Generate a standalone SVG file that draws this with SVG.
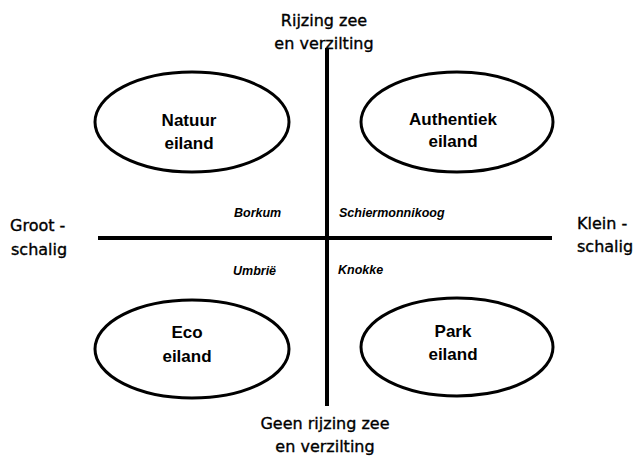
<svg xmlns="http://www.w3.org/2000/svg" width="637" height="456" viewBox="0 0 637 456">
  <style>
    .axis { stroke: #000; stroke-width: 4; stroke-linecap: butt; fill: none; }
    .island { fill: none; stroke: #000; stroke-width: 3; }
    .node-label { font-family: "Liberation Sans", Arial, sans-serif; font-weight: bold; font-size: 17px; fill: #000; text-anchor: middle; }
    .pole { font-family: "DejaVu Sans", "Liberation Sans", sans-serif; font-size: 16px; fill: #000; stroke: #000; stroke-width: 0.35; }
    .pole-c { text-anchor: middle; }
    .example { font-family: "Liberation Sans", Arial, sans-serif; font-weight: bold; font-style: italic; font-size: 12.5px; fill: #000; }
  </style>
  <rect width="637" height="456" fill="#fff"/>

  <!-- axes -->
  <g id="connectors">
    <line class="axis" x1="327" y1="48" x2="327" y2="406"/>
    <line class="axis" x1="98" y1="238" x2="552" y2="238"/>
  </g>

  <!-- axis poles -->
  <g id="pole-top">
    <text class="pole pole-c" x="324" y="26">Rijzing zee</text>
    <text class="pole pole-c" x="324" y="49">en verzilting</text>
  </g>
  <g id="pole-bottom">
    <text class="pole pole-c" x="325" y="429">Geen rijzing zee</text>
    <text class="pole pole-c" x="325" y="452">en verzilting</text>
  </g>
  <g id="pole-left">
    <text class="pole" x="10" y="231">Groot -</text>
    <text class="pole" x="11" y="255">schalig</text>
  </g>
  <g id="pole-right">
    <text class="pole" x="577" y="229">Klein -</text>
    <text class="pole" x="577" y="252">schalig</text>
  </g>

  <!-- quadrant islands -->
  <g id="natuur-eiland">
    <ellipse class="island" cx="192" cy="122" rx="97" ry="50"/>
    <text class="node-label" x="189" y="126">Natuur</text>
    <text class="node-label" x="189" y="149">eiland</text>
  </g>
  <g id="authentiek-eiland">
    <ellipse class="island" cx="457" cy="122" rx="96" ry="50"/>
    <text class="node-label" x="453" y="125">Authentiek</text>
    <text class="node-label" x="453" y="147">eiland</text>
  </g>
  <g id="eco-eiland">
    <ellipse class="island" cx="192" cy="349" rx="97" ry="49"/>
    <text class="node-label" x="187" y="338">Eco</text>
    <text class="node-label" x="187" y="362">eiland</text>
  </g>
  <g id="park-eiland">
    <ellipse class="island" cx="457" cy="347" rx="96" ry="49"/>
    <text class="node-label" x="453" y="337">Park</text>
    <text class="node-label" x="453" y="360">eiland</text>
  </g>

  <!-- example locations -->
  <g id="examples">
    <text class="example" x="234" y="217">Borkum</text>
    <text class="example" x="339" y="217">Schiermonnikoog</text>
    <text class="example" x="233" y="275">Umbrië</text>
    <text class="example" x="338" y="274">Knokke</text>
  </g>
</svg>
